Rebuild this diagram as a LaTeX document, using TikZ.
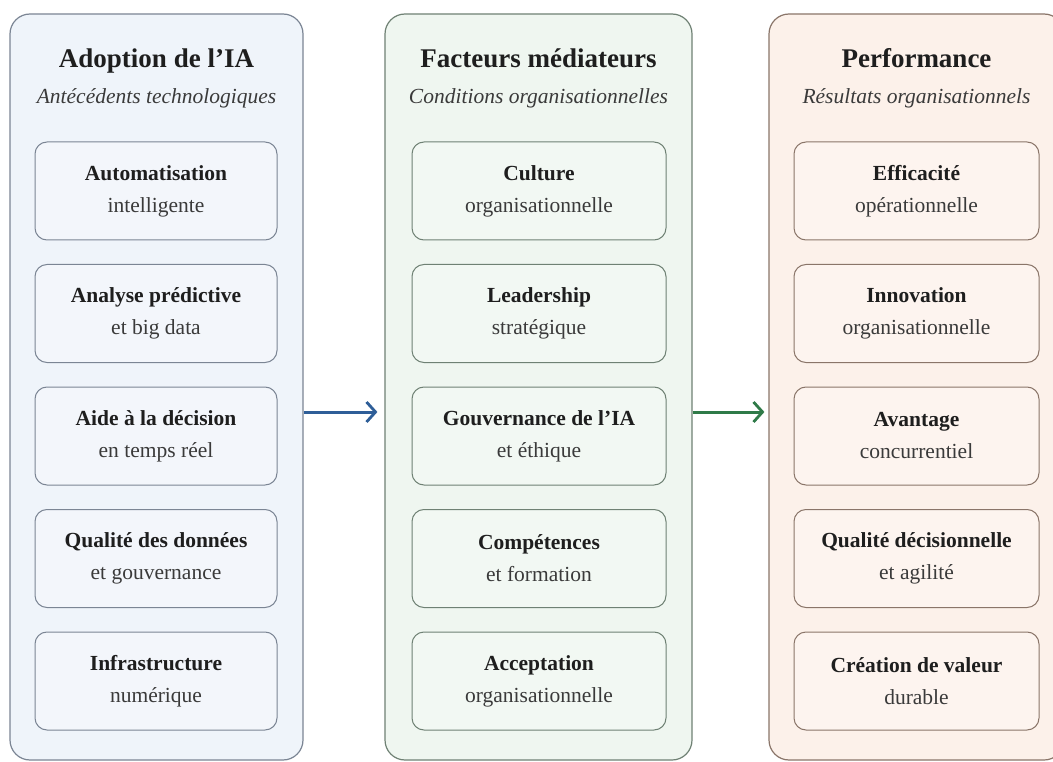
\documentclass[tikz,border=0pt]{standalone}
\usepackage{fontspec}
\setmainfont{Liberation Serif}
\usetikzlibrary{arrows.meta}
\definecolor{lfill}{HTML}{EFF4FA}
\definecolor{ldraw}{HTML}{7B8594}
\definecolor{lin}{HTML}{F3F6FB}
\definecolor{mfill}{HTML}{EFF6F0}
\definecolor{mdraw}{HTML}{6F8174}
\definecolor{min}{HTML}{F2F8F3}
\definecolor{rfill}{HTML}{FCF1EA}
\definecolor{rdraw}{HTML}{8A7569}
\definecolor{rin}{HTML}{FDF4EF}
\definecolor{txt}{HTML}{1E1E1E}
\definecolor{subtxt}{HTML}{3A3A3A}
\definecolor{barrow}{HTML}{2E5E98}
\definecolor{garrow}{HTML}{2F7A48}
\begin{document}
\begin{tikzpicture}[x=1pt,y=-1pt,
  outer/.style={draw, rounded corners=20pt, line width=1.2pt, minimum height=746pt, inner sep=0pt},
  inbox/.style={draw, rounded corners=12pt, line width=1pt, minimum height=98pt, align=center, inner sep=0pt, text=txt, font=\fontsize{21.5}{32}\selectfont},
  ttl/.style={anchor=base, text=txt, font=\bfseries\fontsize{27}{30}\selectfont},
  subttl/.style={anchor=base, text=subtxt, font=\itshape\fontsize{21.5}{26}\selectfont},
  conn/.style={line width=3pt, -{Straight Barb[length=9pt,width=20pt,line width=2.8pt]}}
]
\useasboundingbox (0,0) rectangle (1053,762);
\clip (0,0) rectangle (1053,762);
\fill[white] (0,0) rectangle (1053,762);
\newcommand{\sub}[1]{{\color{subtxt}#1}}
% outer columns
\node[outer, fill=lfill, draw=ldraw, minimum width=293pt] (L) at (156.5,387) {};
\node[outer, fill=mfill, draw=mdraw, minimum width=307pt] (M) at (538.5,387) {};
\node[outer, fill=rfill, draw=rdraw, minimum width=295pt] (R) at (916.5,387) {};
% headers
\node[ttl] (Lt) at (156.5,68) {Adoption de l'IA};
\node[subttl] (Ls) at (156.5,104) {Antécédents technologiques};
\node[ttl] (Mt) at (538.5,68) {Facteurs médiateurs};
\node[subttl] (Ms) at (538.5,104) {Conditions organisationnelles};
\node[ttl] (Rt) at (916.5,68) {Performance};
\node[subttl] (Rs) at (916.5,104) {Résultats organisationnels};
% left inner
\begin{scope}[every node/.style={inbox, fill=lin, draw=ldraw, minimum width=242pt}]
\node (L1) at (156,191) {\textbf{Automatisation}\\\sub{intelligente}};
\node (L2) at (156,313.5) {\textbf{Analyse prédictive}\\\sub{et big data}};
\node (L3) at (156,436) {\textbf{Aide à la décision}\\\sub{en temps réel}};
\node (L4) at (156,558.5) {\textbf{Qualité des données}\\\sub{et gouvernance}};
\node (L5) at (156,681) {\textbf{Infrastructure}\\\sub{numérique}};
\end{scope}
% middle inner
\begin{scope}[every node/.style={inbox, fill=min, draw=mdraw, minimum width=254pt}]
\node (M1) at (539,191) {\textbf{Culture}\\\sub{organisationnelle}};
\node (M2) at (539,313.5) {\textbf{Leadership}\\\sub{stratégique}};
\node (M3) at (539,436) {\textbf{Gouvernance de l'IA}\\\sub{et éthique}};
\node (M4) at (539,558.5) {\textbf{Compétences}\\\sub{et formation}};
\node (M5) at (539,681) {\textbf{Acceptation}\\\sub{organisationnelle}};
\end{scope}
% right inner
\begin{scope}[every node/.style={inbox, fill=rin, draw=rdraw, minimum width=245pt}]
\node (R1) at (916.5,191) {\textbf{Efficacité}\\\sub{opérationnelle}};
\node (R2) at (916.5,313.5) {\textbf{Innovation}\\\sub{organisationnelle}};
\node (R3) at (916.5,436) {\textbf{Avantage}\\\sub{concurrentiel}};
\node (R4) at (916.5,558.5) {\textbf{Qualité décisionnelle}\\\sub{et agilité}};
\node (R5) at (916.5,681) {\textbf{Création de valeur}\\\sub{durable}};
\end{scope}
% connectors
\draw[conn, draw=barrow, shorten >=7pt] ([yshift=-25pt]L.east) -- ([yshift=-25pt]M.west);
\draw[conn, draw=garrow, shorten >=4pt] ([yshift=-25pt]M.east) -- ([yshift=-25pt]R.west);
\end{tikzpicture}
\end{document}
